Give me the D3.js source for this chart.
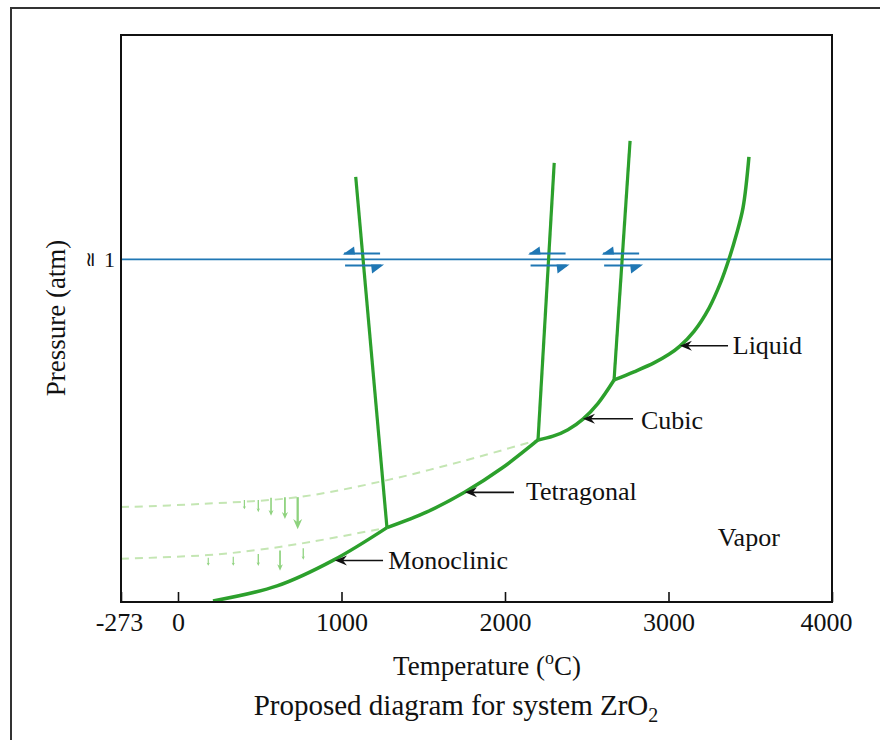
<!DOCTYPE html>
<html>
<head>
<meta charset="utf-8">
<script src="https://cdn.jsdelivr.net/npm/d3@7"></script>
<style>
  html, body { margin: 0; padding: 0; background: #fff; }
  svg { display: block; }
  text { font-family: "Liberation Serif", "Times New Roman", serif; fill: #111; }
</style>
</head>
<body>
<svg id="chart" width="880" height="740"></svg>
<script>
// ---------------- DATA (temperature in °C, pressure relative to 1 atm) ----------------
const tickValues = [-273, 0, 1000, 2000, 3000, 4000];
const tickLabels = ["-273", "0", "1000", "2000", "3000", "4000"];
const oneAtm = 1;

// solid–vapor / liquid–vapor boundary, split at triple points
const monoclinicVaporT = [214, 606, 954, 1278];
const monoclinicVaporP = [0.003, 0.047, 0.123, 0.217];
const tetragonalVaporT = [1278, 1523, 1755, 1982, 2202];
const tetragonalVaporP = [0.217, 0.263, 0.321, 0.391, 0.473];
const cubicVaporT = [2202, 2294, 2385, 2477, 2569, 2667];
const cubicVaporP = [0.473, 0.484, 0.503, 0.534, 0.580, 0.648];
const liquidVaporT = [2667, 2789, 2911, 3003, 3070, 3156, 3248, 3321, 3370, 3413, 3456, 3492];
const liquidVaporP = [0.648, 0.672, 0.698, 0.723, 0.747, 0.790, 0.858, 0.935, 1.001, 1.069, 1.151, 1.299];

// near-vertical phase boundaries: [top, triple point]
const monoTetraT = [1087, 1278];
const monoTetraP = [1.241, 0.217];
const tetraCubicT = [2301, 2202];
const tetraCubicP = [1.282, 0.473];
const cubicLiquidT = [2765, 2667];
const cubicLiquidP = [1.346, 0.648];

// metastable (dashed) extensions
const metaUpperT = [-273, 135, 734, 1254, 1725, 2202];
const metaUpperP = [0.277, 0.286, 0.306, 0.353, 0.409, 0.473];
const metaLowerT = [-273, 184, 489, 807, 1278];
const metaLowerP = [0.126, 0.137, 0.152, 0.175, 0.217];

// small downward arrows below the dashed curves
const dropT      = [406, 491, 569, 654, 732, 185, 338, 491, 624, 766];
const dropTopP   = [0.298, 0.298, 0.304, 0.306, 0.306, 0.129, 0.132, 0.140, 0.150, 0.157];
const dropBottomP= [0.271, 0.262, 0.252, 0.242, 0.212, 0.106, 0.106, 0.105, 0.091, 0.123];

// region labels with arrows
const labelNames = ["Liquid", "Cubic", "Tetragonal", "Monoclinic"];
const labelTipT  = [3070, 2477, 1755, 960];
const labelTipP  = [0.748, 0.535, 0.320, 0.121];
const labelTailT = [3364, 2783, 2055, 1254];
const labelTextT = [3393, 2832, 2128, 1286];
const labelTextP = [0.724, 0.505, 0.298, 0.096];
const vaporLabel = { name: "Vapor", T: 3301, P: 0.163 };

// ---------------- SETUP ----------------
const green = "#2ca02c", blue = "#1f77b4", lightGreen = "#8ed27e", dashGreen = "#c4e6b3";
const svg = d3.select("#chart");
const x = d3.scaleLinear().domain([-273, 0, 4000]).range([121, 178, 832]);
const y = d3.scaleLinear().domain([0, 1.655]).range([602, 35]);

// outer frame
svg.append("rect").attr("x", 11).attr("y", 8).attr("width", 900).attr("height", 800)
  .attr("fill", "none").attr("stroke", "#333").attr("stroke-width", 2);

const zip = (T, P) => T.map((t, i) => [t, P[i]]);
const line = d3.line().x(d => x(d[0])).y(d => y(d[1]));
const smooth = d3.line().x(d => x(d[0])).y(d => y(d[1])).curve(d3.curveCatmullRom.alpha(0.5));

// 1 atm line
svg.append("line").attr("x1", x(-273)).attr("x2", x(4000))
  .attr("y1", y(oneAtm)).attr("y2", y(oneAtm))
  .attr("stroke", blue).attr("stroke-width", 1.6);

// dashed metastable curves
[[metaUpperT, metaUpperP], [metaLowerT, metaLowerP]].forEach(([T, P]) => {
  svg.append("path").attr("d", smooth(zip(T, P)))
    .attr("fill", "none").attr("stroke", dashGreen).attr("stroke-width", 2)
    .attr("stroke-dasharray", "8,6");
});

// small drop arrows
dropT.forEach((t, i) => {
  const cx = x(t), y0 = y(dropTopP[i]), y1 = y(dropBottomP[i]);
  const len = y1 - y0;
  const hl = Math.max(3, len * 0.32), hw = Math.max(1.6, len * 0.14);
  svg.append("line").attr("x1", cx).attr("x2", cx).attr("y1", y0).attr("y2", y1 - hl * 0.6)
    .attr("stroke", lightGreen).attr("stroke-width", 0.7 + len * 0.05);
  svg.append("path")
    .attr("d", `M${cx},${y1} L${cx - hw},${y1 - hl} L${cx},${y1 - hl * 0.7} L${cx + hw},${y1 - hl} Z`)
    .attr("fill", lightGreen);
});

// vapor boundary segments
[[monoclinicVaporT, monoclinicVaporP], [tetragonalVaporT, tetragonalVaporP],
 [cubicVaporT, cubicVaporP], [liquidVaporT, liquidVaporP]].forEach(([T, P]) => {
  svg.append("path").attr("d", smooth(zip(T, P)))
    .attr("fill", "none").attr("stroke", green).attr("stroke-width", 3.5)
    .attr("stroke-linejoin", "round");
});

// near-vertical boundaries
const verticals = [[monoTetraT, monoTetraP], [tetraCubicT, tetraCubicP], [cubicLiquidT, cubicLiquidP]];
verticals.forEach(([T, P]) => {
  svg.append("path").attr("d", line(zip(T, P)))
    .attr("fill", "none").attr("stroke", green).attr("stroke-width", 3.2);
});

// equilibrium symbols where each boundary crosses 1 atm
verticals.forEach(([T, P]) => {
  const t = T[0] + (oneAtm - P[0]) * (T[1] - T[0]) / (P[1] - P[0]);
  const cx = x(t), cy = y(oneAtm);
  const g = svg.append("g").attr("stroke", blue).attr("stroke-width", 2);
  g.append("line").attr("x1", cx - 19).attr("x2", cx + 17).attr("y1", cy - 6).attr("y2", cy - 6);
  g.append("line").attr("x1", cx - 18).attr("x2", cx + 18).attr("y1", cy + 6).attr("y2", cy + 6);
  svg.append("path")
    .attr("d", `M${cx - 20.5},${cy - 5} L${cx - 9},${cy - 13} L${cx - 8},${cy - 5} Z`).attr("fill", blue);
  svg.append("path")
    .attr("d", `M${cx + 21},${cy + 5} L${cx + 9},${cy + 14} L${cx + 8},${cy + 5} Z`).attr("fill", blue);
});

// plot box
svg.append("rect").attr("x", x(-273)).attr("y", y(1.655))
  .attr("width", x(4000) - x(-273)).attr("height", y(0) - y(1.655))
  .attr("fill", "none").attr("stroke", "#111").attr("stroke-width", 2);

// x axis
const axis = d3.axisBottom(x).tickValues(tickValues)
  .tickFormat((d, i) => tickLabels[i]).tickSizeInner(-10).tickSizeOuter(0);
const ax = svg.append("g").attr("transform", `translate(0,${y(0)})`).call(axis);
ax.select(".domain").remove();
ax.selectAll(".tick line").attr("stroke", "#111").attr("stroke-width", 1.6);
ax.selectAll(".tick text").attr("y", 29).attr("dy", 0)
  .attr("dx", d => d === 4000 ? -6 : (d === -273 ? -2 : 0))
  .style("font-family", '"Liberation Serif", serif').style("font-size", "26px").attr("fill", "#111");

// axis titles
const tt = svg.append("text").attr("x", 487).attr("y", 675).attr("text-anchor", "middle")
  .style("font-size", "27px");
tt.append("tspan").text("Temperature (");
tt.append("tspan").text("o").style("font-size", "18px").attr("dy", -11);
tt.append("tspan").text("C)").attr("dy", 11);

const cap = svg.append("text").attr("x", 456).attr("y", 715).attr("text-anchor", "middle")
  .style("font-size", "29px");
cap.append("tspan").text("Proposed diagram for system ZrO");
cap.append("tspan").text("2").style("font-size", "20px").attr("dy", 7);

svg.append("text").attr("transform", "translate(65,318) rotate(-90)")
  .attr("text-anchor", "middle").style("font-size", "27px").text("Pressure (atm)");

// ≃ 1 label
svg.append("text").attr("transform", `translate(90,${y(oneAtm)}) rotate(-90)`)
  .attr("text-anchor", "middle").attr("dy", "0.35em").style("font-size", "20px").text("≃");
svg.append("text").attr("x", 104).attr("y", y(oneAtm) + 8).style("font-size", "22px").text("1");

// region labels
labelNames.forEach((name, i) => {
  const tx = x(labelTipT[i]), ty = y(labelTipP[i]);
  svg.append("line").attr("x1", tx + 6).attr("x2", x(labelTailT[i]))
    .attr("y1", ty).attr("y2", ty).attr("stroke", "#111").attr("stroke-width", 1.6);
  svg.append("path")
    .attr("d", `M${tx},${ty} L${tx + 12},${ty - 5} L${tx + 8},${ty} L${tx + 12},${ty + 5} Z`)
    .attr("fill", "#111");
  svg.append("text").attr("x", x(labelTextT[i])).attr("y", y(labelTextP[i]))
    .style("font-size", "26px").text(name);
});
svg.append("text").attr("x", x(vaporLabel.T)).attr("y", y(vaporLabel.P))
  .style("font-size", "26px").text(vaporLabel.name);
</script>
</body>
</html>
